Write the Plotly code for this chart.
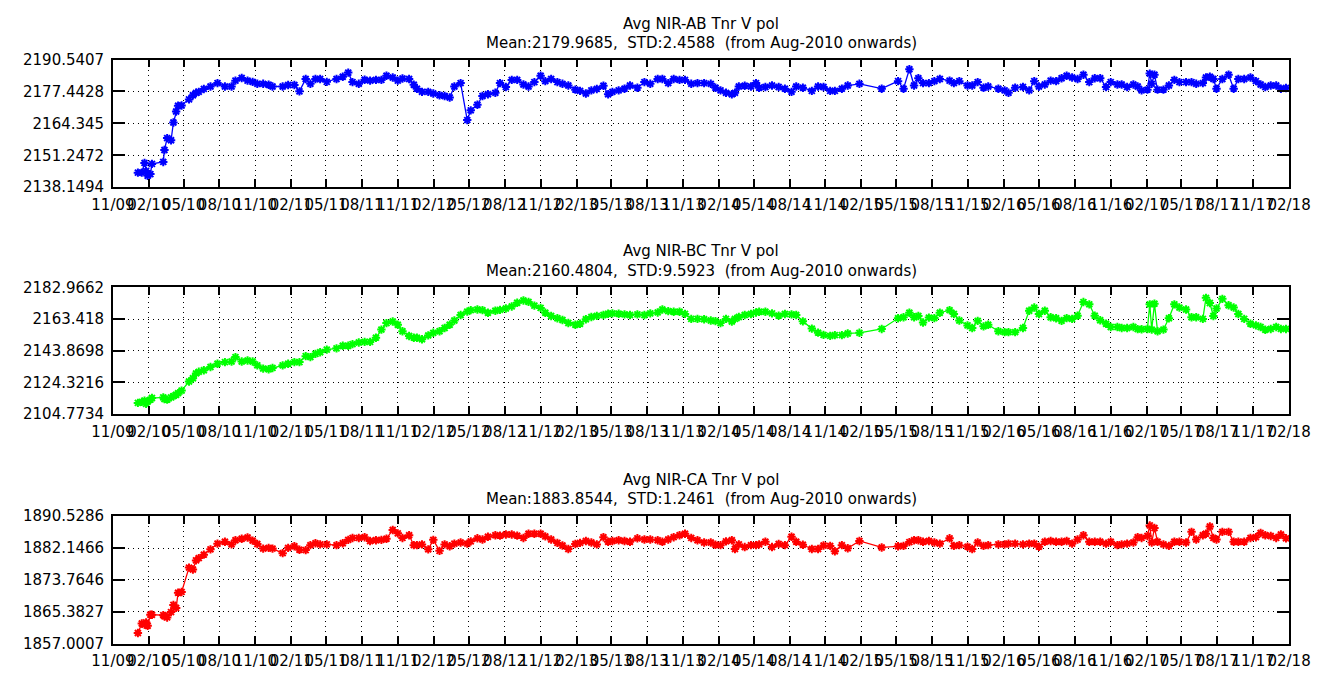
import plotly.graph_objects as go
from plotly.subplots import make_subplots
from datetime import datetime

# Sampling dates shared by the three channels
dates = [
    "2010-01-04", "2010-01-14", "2010-01-21", "2010-01-25", "2010-01-29", "2010-02-05", "2010-02-09",
    "2010-03-10", "2010-03-13", "2010-03-20", "2010-03-30", "2010-04-05", "2010-04-12", "2010-04-17",
    "2010-04-26", "2010-05-15", "2010-05-25", "2010-06-02", "2010-06-09", "2010-06-22", "2010-07-09",
    "2010-07-27", "2010-08-15", "2010-09-01", "2010-09-11", "2010-09-27", "2010-10-12", "2010-10-25",
    "2010-11-06", "2010-11-21", "2010-12-05", "2010-12-15", "2011-01-10", "2011-01-24", "2011-02-09",
    "2011-02-22", "2011-03-10", "2011-03-22", "2011-04-04", "2011-04-16", "2011-05-03", "2011-05-28",
    "2011-06-13", "2011-06-27", "2011-07-08", "2011-07-24", "2011-08-08", "2011-08-22", "2011-09-06",
    "2011-09-20", "2011-10-03", "2011-10-19", "2011-11-01", "2011-11-13", "2011-11-30", "2011-12-12",
    "2011-12-20", "2012-01-02", "2012-01-18", "2012-01-31", "2012-02-16", "2012-02-29", "2012-03-13",
    "2012-03-25", "2012-04-10", "2012-04-27", "2012-05-06", "2012-05-23", "2012-06-05", "2012-06-19",
    "2012-07-08", "2012-07-20", "2012-08-04", "2012-08-19", "2012-09-02", "2012-09-18", "2012-10-01",
    "2012-10-16", "2012-11-01", "2012-11-13", "2012-11-28", "2012-12-14", "2012-12-27", "2013-01-11",
    "2013-01-29", "2013-02-10", "2013-02-25", "2013-03-11", "2013-03-25", "2013-04-11", "2013-04-23",
    "2013-05-04", "2013-05-20", "2013-06-04", "2013-06-18", "2013-07-07", "2013-07-25", "2013-08-09",
    "2013-08-28", "2013-09-09", "2013-09-24", "2013-10-08", "2013-10-23", "2013-11-06", "2013-11-22",
    "2013-12-08", "2013-12-25", "2014-01-11", "2014-01-23", "2014-02-05", "2014-02-19", "2014-03-06",
    "2014-03-14", "2014-03-24", "2014-04-08", "2014-04-24", "2014-05-07", "2014-05-15", "2014-05-31",
    "2014-06-17", "2014-07-04", "2014-07-20", "2014-08-06", "2014-08-18", "2014-09-04", "2014-09-27",
    "2014-10-13", "2014-10-27", "2014-11-13", "2014-11-25", "2014-12-13", "2014-12-28", "2015-01-27",
    "2015-03-25", "2015-05-06", "2015-05-20", "2015-06-04", "2015-06-16", "2015-06-27", "2015-07-09",
    "2015-07-24", "2015-08-07", "2015-08-21", "2015-09-15", "2015-09-26", "2015-10-10", "2015-10-31",
    "2015-11-12", "2015-11-26", "2015-12-11", "2015-12-23", "2016-01-18", "2016-02-03", "2016-02-13",
    "2016-03-01", "2016-03-21", "2016-04-06", "2016-04-19", "2016-05-01", "2016-05-16", "2016-05-31",
    "2016-06-14", "2016-06-28", "2016-07-11", "2016-07-25", "2016-08-08", "2016-08-23", "2016-09-07",
    "2016-09-21", "2016-10-05", "2016-10-20", "2016-11-01", "2016-11-18", "2016-11-29", "2016-12-13",
    "2016-12-29", "2017-01-09", "2017-01-19", "2017-02-03", "2017-02-09", "2017-02-14", "2017-02-21",
    "2017-03-01", "2017-03-16", "2017-03-30", "2017-04-13", "2017-04-26", "2017-05-13", "2017-05-27",
    "2017-06-08", "2017-06-25", "2017-07-03", "2017-07-13", "2017-07-22", "2017-07-30", "2017-08-14",
    "2017-08-30", "2017-09-12", "2017-09-24", "2017-10-09", "2017-10-25", "2017-11-08", "2017-11-20",
    "2017-12-02", "2017-12-16", "2017-12-30", "2018-01-11", "2018-01-24",
]

tnr_ab = [
    2144.1, 2144.1, 2148.1, 2144.8, 2142.8, 2143.5, 2147.7, 2148.5, 2153.4, 2158.3,
    2157.4, 2164.7, 2169.2, 2171.6, 2171.7, 2174.2, 2175.9, 2176.9, 2177.3, 2178.5,
    2179.5, 2180.9, 2179.5, 2179.5, 2181.9, 2183.0, 2181.9, 2181.4, 2180.6, 2180.6,
    2180.2, 2179.5, 2179.5, 2180.1, 2180.1, 2177.5, 2182.6, 2180.6, 2182.6, 2182.6,
    2181.4, 2182.6, 2183.5, 2185.2, 2181.3, 2180.6, 2182.3, 2181.9, 2182.2, 2182.2,
    2183.9, 2183.2, 2181.9, 2182.8, 2182.6, 2180.2, 2178.6, 2177.3, 2177.3, 2176.6,
    2175.9, 2175.6, 2175.0, 2179.5, 2180.9, 2165.7, 2169.7, 2172.0, 2175.6, 2176.3,
    2176.9, 2180.9, 2179.3, 2182.2, 2182.2, 2180.3, 2179.5, 2181.3, 2183.9, 2181.7,
    2182.6, 2181.3, 2180.6, 2179.9, 2178.2, 2177.7, 2176.6, 2177.9, 2178.5, 2179.8,
    2176.3, 2177.3, 2177.9, 2178.6, 2179.9, 2179.0, 2181.3, 2180.6, 2182.6, 2182.6,
    2180.9, 2182.6, 2182.2, 2182.2, 2180.6, 2180.9, 2180.9, 2180.6, 2179.0, 2177.9,
    2176.9, 2176.3, 2176.9, 2179.5, 2179.8, 2179.5, 2180.9, 2179.0, 2179.3, 2179.9,
    2179.3, 2178.6, 2177.3, 2179.5, 2179.0, 2177.7, 2179.5, 2179.3, 2177.7, 2177.7,
    2178.6, 2179.9, 2180.6, 2178.6, 2181.7, 2178.6, 2186.6, 2179.9, 2182.9, 2180.9,
    2180.9, 2181.7, 2182.6, 2181.9, 2180.9, 2181.7, 2179.9, 2179.9, 2181.3, 2179.0,
    2179.5, 2178.6, 2177.9, 2176.9, 2179.0, 2179.3, 2177.9, 2181.7, 2179.5, 2180.3,
    2181.9, 2181.7, 2182.9, 2183.9, 2183.2, 2182.6, 2184.3, 2181.3, 2182.9, 2182.9,
    2179.3, 2181.3, 2180.3, 2180.3, 2179.3, 2180.3, 2179.5, 2177.9, 2178.2, 2184.8,
    2180.6, 2184.3, 2178.2, 2178.2, 2179.9, 2182.2, 2181.3, 2181.3, 2181.3, 2180.6,
    2180.9, 2183.2, 2183.5, 2182.6, 2178.6, 2182.6, 2184.3, 2178.6, 2182.6, 2182.6,
    2183.2, 2181.7, 2180.3, 2179.3, 2179.9, 2179.9, 2178.6, 2178.9,
]

tnr_bc = [
    2111.6, 2112.2, 2113.0, 2111.0, 2112.4, 2113.6, 2114.6, 2115.0, 2114.0, 2113.6,
    2115.0, 2115.8, 2116.6, 2117.6, 2119.2, 2124.8, 2126.8, 2129.8, 2130.8, 2131.8,
    2133.8, 2135.8, 2136.8, 2137.2, 2139.9, 2137.2, 2137.8, 2137.2, 2134.8, 2132.8,
    2132.4, 2133.2, 2134.8, 2135.8, 2136.8, 2136.8, 2140.5, 2139.9, 2141.9, 2142.9,
    2144.5, 2145.3, 2146.9, 2146.9, 2147.9, 2148.9, 2149.3, 2149.3, 2151.9, 2156.9,
    2160.9, 2161.9, 2159.9, 2155.9, 2152.9, 2151.9, 2151.9, 2150.9, 2153.3, 2154.9,
    2155.9, 2157.9, 2159.9, 2162.5, 2165.9, 2168.0, 2168.9, 2169.3, 2168.9, 2167.3,
    2168.5, 2169.1, 2169.9, 2171.2, 2173.5, 2174.9, 2174.0, 2171.7, 2170.3, 2167.3,
    2165.3, 2163.9, 2162.8, 2161.0, 2159.9, 2160.5, 2163.3, 2164.7, 2165.4, 2165.9,
    2166.7, 2166.9, 2166.7, 2166.3, 2165.9, 2166.3, 2165.9, 2166.9, 2167.5, 2169.3,
    2168.3, 2167.9, 2167.9, 2166.6, 2163.5, 2163.5, 2163.3, 2162.5, 2162.1, 2160.9,
    2163.5, 2161.9, 2163.5, 2164.7, 2165.9, 2166.5, 2167.5, 2167.9, 2167.9, 2166.9,
    2165.5, 2166.5, 2166.3, 2165.9, 2162.0, 2157.5, 2155.0, 2153.6, 2153.0, 2153.5,
    2153.5, 2154.5, 2154.9, 2157.3, 2163.9, 2164.5, 2167.3, 2164.5, 2165.3, 2161.3,
    2164.3, 2164.0, 2167.3, 2168.9, 2166.5, 2162.5, 2159.5, 2157.9, 2162.3, 2158.9,
    2159.9, 2155.9, 2155.3, 2155.3, 2155.3, 2157.9, 2168.5, 2170.5, 2166.5, 2168.5,
    2164.5, 2163.9, 2162.3, 2164.0, 2163.5, 2165.5, 2173.9, 2172.5, 2165.5, 2162.7,
    2160.5, 2158.5, 2158.5, 2157.9, 2157.9, 2158.5, 2157.2, 2157.1, 2157.3, 2172.5,
    2156.9, 2172.9, 2155.9, 2156.9, 2163.9, 2172.5, 2170.5, 2169.3, 2164.5, 2164.5,
    2163.5, 2176.5, 2173.3, 2165.3, 2169.9, 2175.9, 2171.9, 2170.5, 2166.5, 2163.5,
    2160.5, 2159.5, 2158.5, 2156.8, 2157.3, 2158.5, 2157.3, 2157.3,
]

tnr_ca = [
    1859.8, 1862.3, 1862.0, 1862.6, 1861.7, 1864.6, 1864.6, 1864.5, 1864.2, 1863.9,
    1865.3, 1867.2, 1866.4, 1870.4, 1870.6, 1877.0, 1876.5, 1878.9, 1879.5, 1880.4,
    1881.8, 1883.3, 1883.8, 1883.1, 1884.2, 1884.6, 1884.9, 1884.1, 1883.2, 1882.0,
    1882.2, 1882.0, 1880.8, 1882.2, 1882.6, 1881.7, 1881.6, 1882.9, 1883.4, 1883.1,
    1883.1, 1882.9, 1883.4, 1884.3, 1884.8, 1884.8, 1885.0, 1884.0, 1884.2, 1884.3,
    1884.6, 1886.9, 1886.0, 1884.8, 1885.5, 1882.9, 1882.9, 1883.1, 1881.8, 1884.3,
    1881.4, 1883.1, 1882.6, 1883.3, 1883.6, 1883.3, 1883.9, 1884.7, 1884.4, 1885.1,
    1885.5, 1885.4, 1885.7, 1885.7, 1885.4, 1884.8, 1885.9, 1885.9, 1885.9, 1885.2,
    1884.4, 1883.5, 1882.8, 1881.9, 1883.2, 1883.5, 1884.0, 1883.6, 1883.1, 1885.0,
    1883.8, 1884.0, 1884.2, 1884.0, 1883.8, 1884.7, 1884.4, 1884.4, 1884.2, 1883.8,
    1884.4, 1885.0, 1885.5, 1885.9, 1884.8, 1884.2, 1883.6, 1883.6, 1883.0, 1882.9,
    1883.9, 1884.2, 1881.9, 1883.1, 1882.4, 1882.9, 1882.9, 1883.1, 1883.8, 1882.4,
    1883.2, 1882.9, 1885.1, 1883.8, 1883.0, 1881.9, 1881.9, 1882.8, 1882.7, 1881.3,
    1882.9, 1882.1, 1884.0, 1882.3, 1882.6, 1882.7, 1883.7, 1884.2, 1884.2, 1883.8,
    1884.0, 1883.6, 1883.3, 1884.7, 1882.7, 1882.9, 1882.5, 1881.9, 1883.6, 1882.7,
    1882.9, 1883.1, 1883.1, 1883.3, 1883.3, 1883.1, 1883.3, 1883.3, 1882.5, 1883.8,
    1884.0, 1883.8, 1883.8, 1884.0, 1883.3, 1884.4, 1885.5, 1883.8, 1883.8, 1883.8,
    1883.3, 1883.8, 1882.9, 1883.1, 1883.3, 1883.6, 1885.0, 1884.8, 1885.3, 1888.1,
    1883.6, 1887.4, 1883.8, 1883.1, 1882.7, 1883.8, 1883.8, 1883.6, 1886.4, 1884.4,
    1885.5, 1885.9, 1887.8, 1884.8, 1884.4, 1886.4, 1886.4, 1883.8, 1883.8, 1883.8,
    1884.8, 1885.0, 1886.1, 1885.5, 1885.3, 1884.8, 1885.7, 1884.7,
]

# Quarterly date ticks (mm/yy)
x_tick_labels = [
    "11/09", "02/10", "05/10", "08/10", "11/10", "02/11", "05/11", "08/11", "11/11",
    "02/12", "05/12", "08/12", "11/12", "02/13", "05/13", "08/13", "11/13", "02/14",
    "05/14", "08/14", "11/14", "02/15", "05/15", "08/15", "11/15", "02/16", "05/16",
    "08/16", "11/16", "02/17", "05/17", "08/17", "11/17", "02/18",
]

ab_ticks = ["2138.1494", "2151.2472", "2164.345", "2177.4428", "2190.5407"]
bc_ticks = ["2104.7734", "2124.3216", "2143.8698", "2163.418", "2182.9662"]
ca_ticks = ["1857.0007", "1865.3827", "1873.7646", "1882.1466", "1890.5286"]

titles = [
    ("Avg NIR-AB Tnr V pol", "Mean:2179.9685,  STD:2.4588  (from Aug-2010 onwards)"),
    ("Avg NIR-BC Tnr V pol", "Mean:2160.4804,  STD:9.5923  (from Aug-2010 onwards)"),
    ("Avg NIR-CA Tnr V pol", "Mean:1883.8544,  STD:1.2461  (from Aug-2010 onwards)"),
]

series = [tnr_ab, tnr_bc, tnr_ca]
ticks = [ab_ticks, bc_ticks, ca_ticks]
colors = ["#0000ff", "#00ff00", "#ff0000"]

W, H = 1343, 677
FONT = "DejaVu Sans"

x_tick_dates = [datetime.strptime("01/" + t, "%d/%m/%y").strftime("%Y-%m-%d") for t in x_tick_labels]

# panel boxes in pixels: (top, bottom)
panel_px = [(52, 183), (286, 416), (521, 652)]
left_px, right_px = 94, 1310
title_px = [(15, 35), (249, 269), (484, 503)]

fig = make_subplots(rows=3, cols=1)

for i, (vals, tk, col) in enumerate(zip(series, ticks, colors)):
    fig.add_trace(
        go.Scatter(
            x=dates, y=vals, mode="lines+markers",
            line=dict(color=col, width=1.3),
            marker=dict(symbol="asterisk-open", size=7, color=col, line=dict(color=col, width=2)),
            showlegend=False,
        ),
        row=i + 1, col=1,
    )
    top, bot = panel_px[i]
    xa = "xaxis" if i == 0 else f"xaxis{i + 1}"
    ya = "yaxis" if i == 0 else f"yaxis{i + 1}"
    fig.layout[xa].update(
        domain=[left_px / W, right_px / W],
        range=[x_tick_dates[0], x_tick_dates[-1]],
        tickmode="array", tickvals=x_tick_dates, ticktext=x_tick_labels,
        tickangle=0, ticks="inside", ticklen=8, tickwidth=1.5, tickcolor="black",
        showline=True, linecolor="black", linewidth=1.5, mirror="ticks",
        showgrid=True, gridcolor="black", gridwidth=1, griddash="1px,4px",
        zeroline=False, ticklabelstandoff=3,
        tickfont=dict(family=FONT, size=15, color="black"),
    )
    yvals = [float(s) for s in tk]
    fig.layout[ya].update(
        domain=[(H - bot) / H, (H - top) / H],
        range=[yvals[0], yvals[-1]],
        tickmode="array", tickvals=yvals, ticktext=tk,
        ticks="inside", ticklen=12, tickwidth=1.5, tickcolor="black",
        showline=True, linecolor="black", linewidth=1.5, mirror="ticks",
        showgrid=True, gridcolor="black", gridwidth=1, griddash="1px,4px",
        zeroline=False, ticklabelstandoff=4,
        tickfont=dict(family=FONT, size=15, color="black"),
    )
    t1, t2 = titles[i]
    y1, y2 = title_px[i]
    cx = (left_px + right_px) / 2 / W
    for txt, yy in ((t1, y1), (t2, y2)):
        fig.add_annotation(
            text=txt, x=cx, y=(H - yy) / H, xref="paper", yref="paper",
            xanchor="center", yanchor="middle", showarrow=False,
            font=dict(family=FONT, size=15, color="black"),
        )

fig.update_layout(
    width=W, height=H,
    margin=dict(l=0, r=0, t=0, b=0),
    paper_bgcolor="white", plot_bgcolor="white",
    font=dict(family=FONT, size=15, color="black"),
)

fig.write_html("out.html", config={"displayModeBar": False})
